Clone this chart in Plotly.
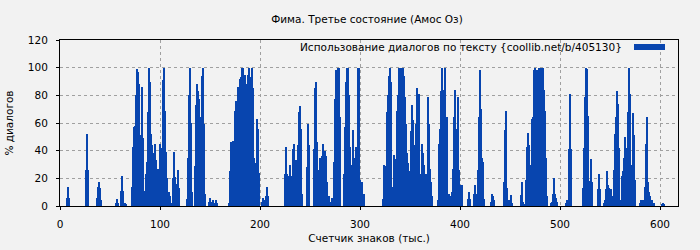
import plotly.graph_objects as go

chart_title = "Фима. Третье состояние (Амос Оз)"
x_title = "Счетчик знаков (тыс.)"
y_title = "% диалогов"
series_name = "Использование диалогов по тексту {coollib.net/b/405130}"

x_ticks = [0, 100, 200, 300, 400, 500, 600]
y_ticks = [0, 20, 40, 60, 80, 100, 120]

# position (thousand chars) -> % dialogues, nonzero bars only
counter_k = [
    7, 8, 9, 26, 27, 28, 37, 38, 39, 40, 41, 56, 57, 58, 61, 62, 63, 64, 65, 66,
    72, 73, 74, 75, 76, 77, 78, 79, 80, 81, 82, 83, 84, 85, 86, 87, 88, 89, 90, 91,
    92, 93, 94, 95, 96, 97, 98, 99, 100, 101, 102, 103, 104, 105, 106, 107, 108, 109, 110, 111,
    113, 114, 115, 116, 117, 118, 119, 127, 128, 129, 130, 131, 132,
    135, 136, 137, 138, 139, 140, 141, 142, 143, 144, 145,
    149, 150, 151, 152, 153, 154, 155, 156, 157,
    169, 170, 171, 172, 173, 174, 175, 176, 177, 178, 179, 180, 181, 182, 183, 184, 185, 186, 187, 188,
    189, 190, 191, 192, 193, 194, 196, 197, 198, 199, 202, 203, 204, 205, 206, 207, 208,
    225, 226, 227, 228, 229, 230, 231, 232, 233, 234, 235, 236, 237, 238, 239, 240, 241, 242,
    247, 248, 249,
    254, 255, 256, 257, 258, 259, 260, 261, 262, 263, 264, 265, 266, 267, 268, 269, 270, 271, 272, 273,
    274, 275, 276, 277, 278, 279, 280,
    284, 285, 286, 287, 288, 289, 290, 291, 292, 293, 294, 295, 296, 297, 298, 299, 300, 301, 302, 303, 304,
    323, 324, 325, 326, 327, 328, 329, 330, 331, 332, 333, 334, 335, 336, 337, 338, 339, 340, 341, 342,
    343, 344, 345, 346, 347, 348, 349, 350, 351, 352, 353, 354, 355, 356, 357, 358, 359, 360, 361, 362,
    363, 364, 365, 366, 367, 368, 369, 370, 371, 372,
    378, 379, 380, 381, 382, 383, 384, 385, 386, 387, 388, 389, 391, 392, 393, 394, 395, 396, 397, 398,
    399, 400, 401, 402,
    408, 409, 410, 414, 415, 416, 417, 418, 419, 420, 421, 422, 423, 424,
    431, 432, 433, 434, 444, 445, 446, 447, 448, 450, 451, 452,
    461, 462, 463, 465, 466, 467, 468, 469, 470, 471, 472, 473, 474, 475, 476, 477, 478, 479, 480, 481,
    482, 483, 484, 485, 486, 487,
    491, 492, 493, 494, 495, 496, 497,
    506, 507, 508, 509, 510, 511,
    523, 524, 525, 526, 527, 528, 529, 530, 531, 532, 538, 539, 540,
    544, 545, 546, 547, 548, 549, 550, 551, 552,
    554, 555, 556, 557, 558, 559, 560, 561, 562, 563, 564, 565, 566, 567, 568, 569, 570, 571, 572, 573,
    574, 575,
    580, 581, 582, 583, 584, 585, 586, 587, 588, 589, 590, 591, 592, 593, 594,
    602, 603, 604,
]

dialog_pct = [
    6, 14, 6, 26, 52, 26, 6, 14, 17, 13, 4, 2, 5, 2, 11, 22, 11, 2, 2, 1,
    14, 43, 57, 58, 80, 99, 97, 88, 51, 43, 86, 49, 6, 11, 23, 32, 68, 100, 90, 52,
    44, 38, 33, 45, 33, 26, 27, 23, 45, 24, 42, 91, 100, 69, 39, 20, 7, 10, 7, 2,
    20, 39, 21, 4, 16, 26, 13, 5, 35, 80, 100, 60, 10,
    29, 73, 88, 83, 77, 58, 64, 94, 100, 59, 9,
    3, 6, 3, 2, 4, 2, 2, 4, 2,
    2, 25, 46, 28, 47, 32, 69, 76, 59, 86, 59, 92, 93, 100, 100, 76, 95, 47, 88, 95,
    100, 93, 69, 100, 85, 35, 31, 63, 56, 24, 3, 6, 4, 1, 7, 14, 7,
    23, 43, 23, 22, 10, 30, 22, 20, 41, 45, 19, 33, 33, 44, 68, 72, 56, 9,
    28, 59, 44,
    41, 85, 90, 46, 26, 17, 35, 35, 36, 45, 25, 40, 36, 17, 7, 7, 2, 3, 6, 6,
    32, 77, 98, 93, 100, 100, 64,
    23, 57, 90, 100, 100, 80, 43, 30, 19, 55, 35, 28, 43, 17, 100, 100, 19, 9, 17, 9, 9,
    5, 30, 29, 29, 68, 80, 94, 100, 90, 6, 14, 37, 28, 34, 69, 80, 100, 89, 100, 88,
    100, 94, 79, 59, 38, 31, 9, 25, 54, 73, 62, 30, 44, 59, 85, 36, 81, 23, 23, 45,
    38, 30, 17, 23, 17, 79, 59, 27, 17, 7,
    4, 45, 56, 83, 100, 84, 38, 100, 56, 64, 9, 9, 7, 10, 27, 64, 84, 56, 35, 79,
    26, 14, 15, 15,
    5, 10, 5, 9, 15, 9, 9, 26, 64, 98, 70, 35, 32, 5,
    3, 9, 7, 4, 17, 55, 69, 13, 4, 4, 8, 2,
    8, 17, 3, 1, 19, 43, 53, 44, 26, 30, 63, 64, 98, 100, 68, 98, 93, 100, 100, 100,
    95, 100, 84, 69, 35, 7,
    2, 3, 9, 20, 9, 6, 3,
    2, 4, 2, 41, 81, 41,
    13, 42, 79, 100, 99, 65, 16, 18, 34, 17, 12, 23, 12,
    2, 4, 12, 25, 15, 13, 12, 12, 7,
    26, 52, 64, 83, 74, 42, 2, 4, 22, 25, 35, 50, 30, 42, 68, 100, 81, 30, 30, 67,
    51, 19,
    2, 4, 2, 4, 2, 14, 45, 64, 17, 10, 7, 2, 4, 2, 2,
    1, 2, 1,
]

BAR_COLOR = "#0845AF"
FONT = "DejaVu Sans"
FS = 10.5

fig = go.Figure()
fig.add_trace(go.Bar(
    x=counter_k, y=dialog_pct, width=1, name=series_name,
    marker=dict(color=BAR_COLOR, line=dict(width=0)),
    showlegend=False,
))

axis_common = dict(
    showline=True, linecolor="black", linewidth=1, mirror=True,
    ticks="outside", ticklen=3, tickcolor="black", automargin=False,
    showgrid=True, gridcolor="#a0a0a0", griddash="3px,3px", gridwidth=1,
    zeroline=False, tickfont=dict(family=FONT, size=FS, color="black"),
)

fig.update_layout(
    width=700, height=250,
    margin=dict(l=60, r=22, t=40, b=44, autoexpand=False),
    paper_bgcolor="#f2f2f2", plot_bgcolor="#f2f2f2",
    font=dict(family=FONT, size=FS, color="black"),
    bargap=0,
    title=dict(text=chart_title, x=367 / 700, xanchor="center",
               y=1 - 19 / 250, yanchor="middle", yref="container",
               font=dict(family=FONT, size=FS, color="black")),
    xaxis=dict(range=[0, 618], tickvals=x_ticks, ticklabelstandoff=5,
               title=dict(text=x_title, standoff=6,
                          font=dict(family=FONT, size=FS, color="black")),
               **axis_common),
    yaxis=dict(range=[0, 120], tickvals=y_ticks, ticklabelstandoff=6,
               title=dict(text=y_title, standoff=12,
                          font=dict(family=FONT, size=FS, color="black")),
               **axis_common),
)

fig.add_annotation(
    text=series_name, xref="paper", yref="paper",
    x=(624 - 60) / 618, y=(206 - 47) / 166, xanchor="right", yanchor="middle",
    showarrow=False, font=dict(family=FONT, size=FS, color="black"),
)
fig.add_shape(
    type="rect", xref="paper", yref="paper",
    x0=(634 - 60) / 618, x1=(665 - 60) / 618,
    y0=(206 - 50) / 166, y1=(206 - 44) / 166,
    fillcolor=BAR_COLOR, line=dict(width=0),
)

fig.write_html("out.html")
